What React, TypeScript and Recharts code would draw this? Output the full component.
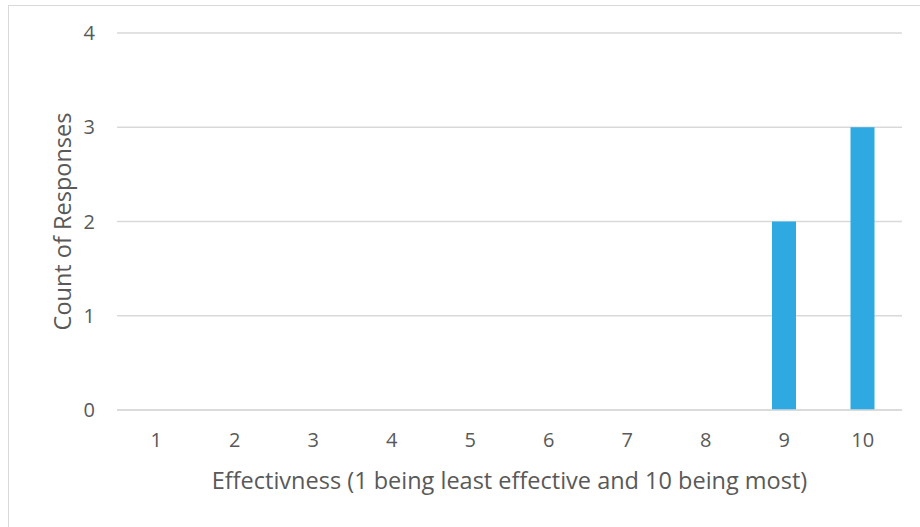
import React from "react";
import { BarChart, Bar, XAxis, YAxis, CartesianGrid, Label } from "recharts";

const ratings = ["1", "2", "3", "4", "5", "6", "7", "8", "9", "10"];
const responseCounts = [0, 0, 0, 0, 0, 0, 0, 0, 2, 3];
const yTicks = [0, 1, 2, 3, 4];

const FONT = "'Open Sans', sans-serif";
const TEXT = "#595959";
const GRID = "#d9d9d9";

const chartData = ratings.map((rating, i) => ({
  rating,
  count: responseCounts[i],
}));

// rotated y axis title, centred on the plot height
const YTitle = (props: any) => {
  const { viewBox } = props;
  const cx = 62;
  const cy = viewBox.y + viewBox.height / 2;
  return (
    <text
      x={cx}
      y={cy}
      transform={`rotate(-90, ${cx}, ${cy})`}
      textAnchor="middle"
      dominantBaseline="central"
      fill={TEXT}
      fontFamily={FONT}
      fontSize={23.5}
    >
      Count of Responses
    </text>
  );
};

const App: React.FC = () => {
  return (
    <div
      style={{
        position: "fixed",
        left: 0,
        top: 0,
        width: 920,
        height: 527,
        overflow: "hidden",
        background: "#fff",
      }}
    >
      <div
        style={{
          position: "absolute",
          left: 8,
          top: 5,
          width: 940,
          height: 560,
          border: `1.5px solid ${GRID}`,
          boxSizing: "border-box",
        }}
      />
      <div style={{ position: "absolute", left: 0, top: 0 }}>
        <BarChart
          width={920}
          height={527}
          data={chartData}
          margin={{ top: 33, right: 18, left: 0, bottom: 0 }}
        >
          <CartesianGrid vertical={false} stroke={GRID} strokeWidth={1.5} />
          <XAxis
            dataKey="rating"
            height={117}
            tickLine={false}
            axisLine={{ stroke: GRID, strokeWidth: 1.5 }}
            tickSize={0}
            tickMargin={23}
            tick={{ fill: TEXT, fontSize: 20, fontFamily: FONT }}
          >
            <Label
              value="Effectivness (1 being least effective and 10 being most)"
              position="insideBottom"
              offset={38}
              fill={TEXT}
              fontSize={23.5}
              fontFamily={FONT}
            />
          </XAxis>
          <YAxis
            width={117}
            domain={[0, 4]}
            ticks={yTicks}
            allowDecimals={false}
            tickLine={false}
            axisLine={false}
            tickSize={0}
            tickMargin={22}
            tick={{ fill: TEXT, fontSize: 20, fontFamily: FONT }}
          >
            <Label content={<YTitle />} />
          </YAxis>
          <Bar
            dataKey="count"
            fill="#2EA9E1"
            barSize={24}
            isAnimationActive={false}
          />
        </BarChart>
      </div>
    </div>
  );
};

export default App;
